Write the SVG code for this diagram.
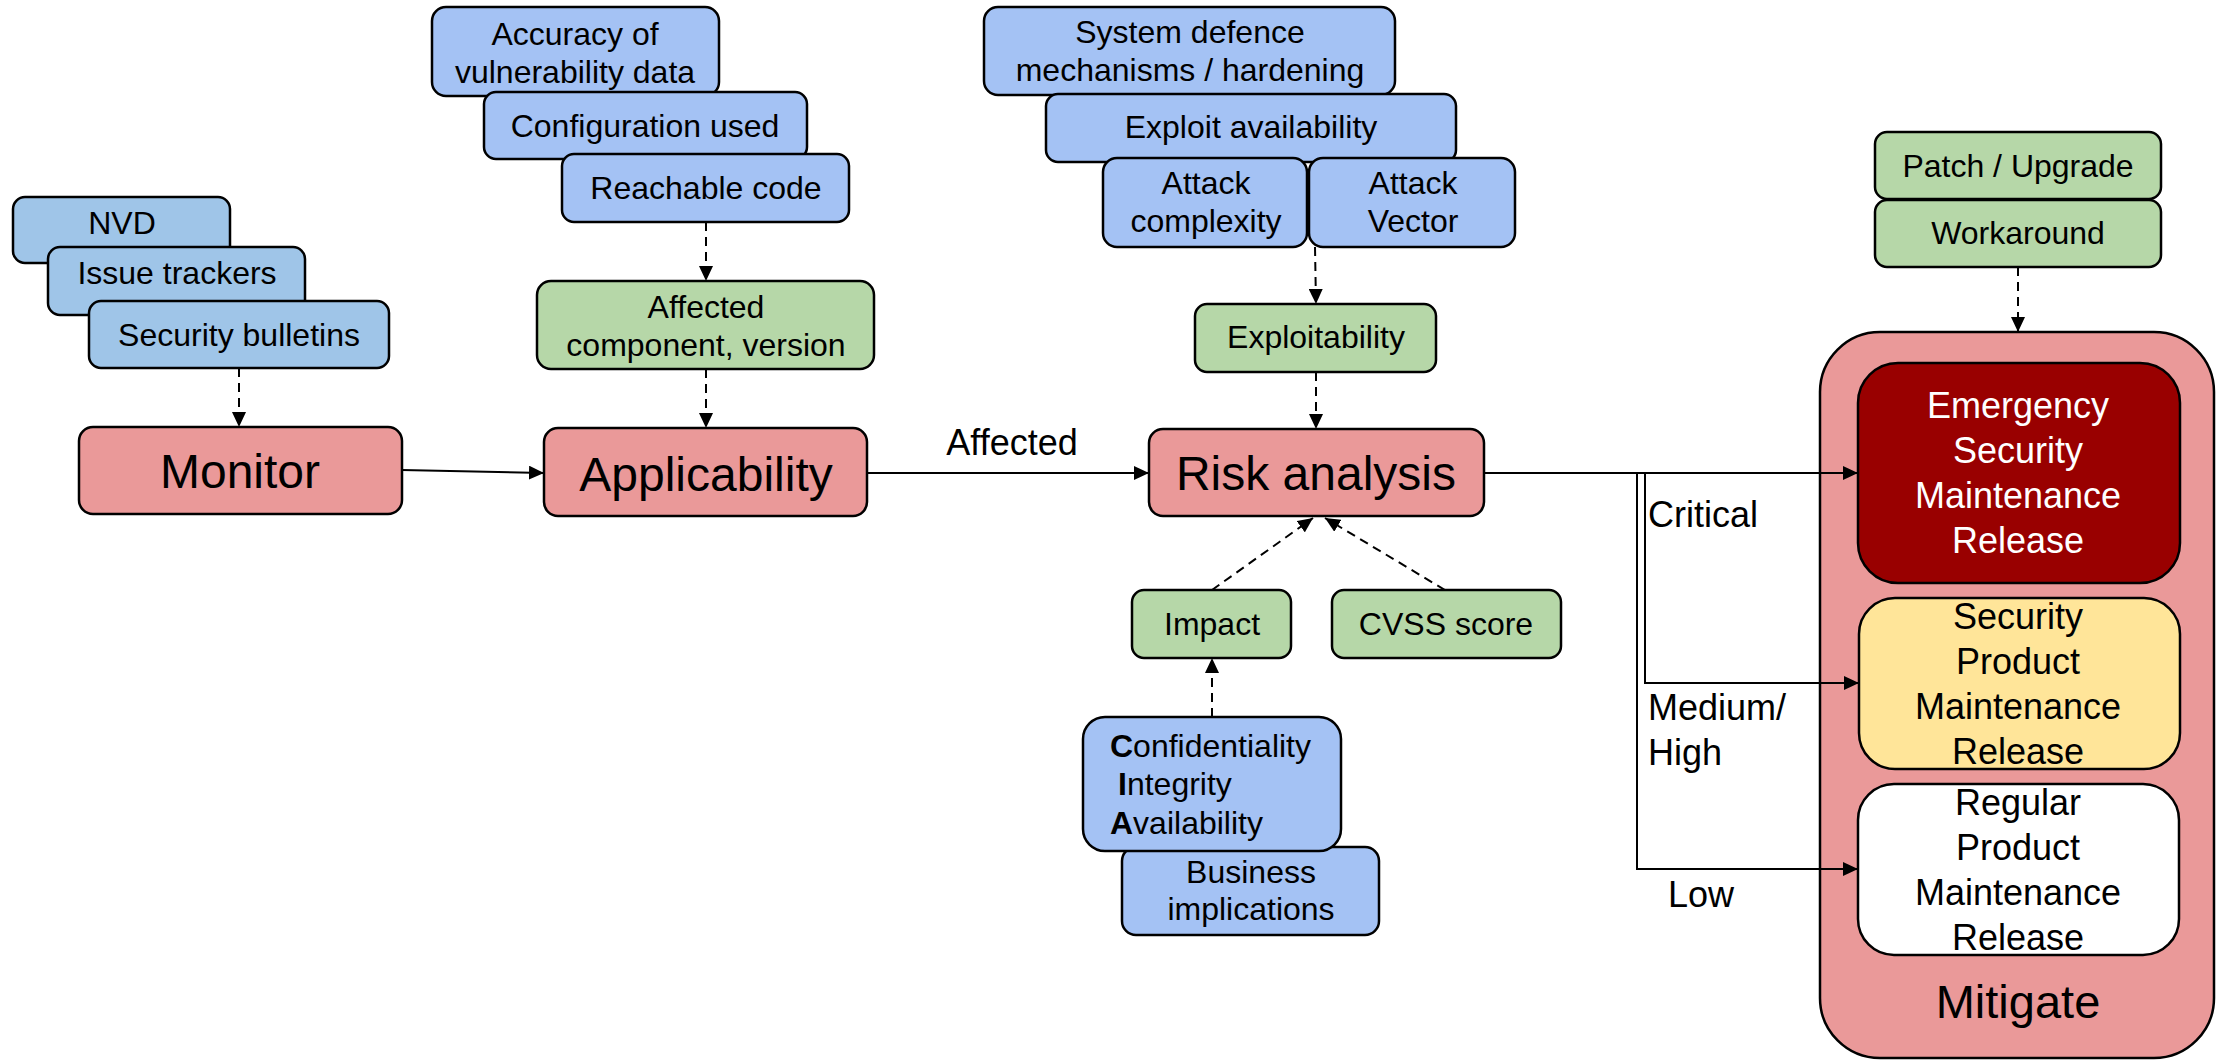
<svg xmlns="http://www.w3.org/2000/svg" width="2221" height="1061" viewBox="0 0 2221 1061">
<style>
text{font-family:"Liberation Sans",Arial,sans-serif;fill:#000}
.b{stroke:#000;stroke-width:2.5}
.src{fill:#9fc5e8}
.blue{fill:#a4c2f4}
.green{fill:#b6d7a8}
.red{fill:#ea9999}
.s{font-size:32px;text-anchor:middle}
.l{font-size:48px;text-anchor:middle}
.lab{font-size:36px}
.n{font-size:36px;text-anchor:middle}
.w{fill:#fff}
.c{fill:none;stroke:#000;stroke-width:2}
.d{stroke-dasharray:9 6}
</style>
<defs>
<marker id="ah" markerUnits="userSpaceOnUse" markerWidth="16" markerHeight="14" refX="15" refY="7" orient="auto">
<path d="M0,0 L15,7 L0,14 z" fill="#000"/>
</marker>
</defs>

<g id="nvd"><rect class="b src" x="13" y="197" width="217" height="66" rx="12"/><text class="s" x="122" y="234">NVD</text></g>
<g id="issue-trackers"><rect class="b src" x="48" y="247" width="257" height="68" rx="12"/><text class="s" x="177" y="284">Issue trackers</text></g>
<g id="security-bulletins"><rect class="b src" x="89" y="301" width="300" height="67" rx="12"/><text class="s" x="239" y="346">Security bulletins</text></g>
<g id="monitor"><rect class="b red" x="79" y="427" width="323" height="87" rx="14"/><text class="l" x="240" y="488">Monitor</text></g>

<g id="accuracy"><rect class="b blue" x="432" y="7" width="287" height="89" rx="14"/><text class="s" x="575" y="45">Accuracy of</text><text class="s" x="575" y="83">vulnerability data</text></g>
<g id="configuration"><rect class="b blue" x="484" y="92" width="323" height="67" rx="12"/><text class="s" x="645" y="137">Configuration used</text></g>
<g id="reachable"><rect class="b blue" x="562" y="154" width="287" height="68" rx="12"/><text class="s" x="706" y="199">Reachable code</text></g>
<g id="affected-component"><rect class="b green" x="537" y="281" width="337" height="88" rx="14"/><text class="s" x="706" y="318">Affected</text><text class="s" x="706" y="356">component, version</text></g>
<g id="applicability"><rect class="b red" x="544" y="428" width="323" height="88" rx="14"/><text class="l" x="706" y="491">Applicability</text></g>

<g id="system-defence"><rect class="b blue" x="984" y="7" width="411" height="88" rx="14"/><text class="s" x="1190" y="43">System defence</text><text class="s" x="1190" y="81">mechanisms / hardening</text></g>
<g id="exploit-availability"><rect class="b blue" x="1046" y="94" width="410" height="68" rx="12"/><text class="s" x="1251" y="138">Exploit availability</text></g>
<g id="attack-complexity"><rect class="b blue" x="1103" y="158" width="204" height="89" rx="14"/><text class="s" x="1206" y="194">Attack</text><text class="s" x="1206" y="232">complexity</text></g>
<g id="attack-vector"><rect class="b blue" x="1309" y="158" width="206" height="89" rx="14"/><text class="s" x="1413" y="194">Attack</text><text class="s" x="1413" y="232">Vector</text></g>
<g id="exploitability"><rect class="b green" x="1195" y="304" width="241" height="68" rx="12"/><text class="s" x="1316" y="348">Exploitability</text></g>
<g id="risk-analysis"><rect class="b red" x="1149" y="429" width="335" height="87" rx="14"/><text class="l" x="1316" y="490">Risk analysis</text></g>

<g id="impact"><rect class="b green" x="1132" y="590" width="159" height="68" rx="12"/><text class="s" x="1212" y="635">Impact</text></g>
<g id="cvss-score"><rect class="b green" x="1332" y="590" width="229" height="68" rx="12"/><text class="s" x="1446" y="635">CVSS score</text></g>
<g id="business-implications"><rect class="b blue" x="1122" y="847" width="257" height="88" rx="14"/><text class="s" x="1251" y="883">Business</text><text class="s" x="1251" y="920">implications</text></g>
<g id="cia"><rect class="b blue" x="1083" y="717" width="258" height="134" rx="22"/>
<text font-size="32" x="1110" y="757"><tspan font-weight="bold">C</tspan>onfidentiality</text>
<text font-size="32" x="1118" y="795"><tspan font-weight="bold">I</tspan>ntegrity</text>
<text font-size="32" x="1110" y="834"><tspan font-weight="bold">A</tspan>vailability</text></g>

<g id="patch-upgrade"><rect class="b green" x="1875" y="132" width="286" height="67" rx="12"/><text class="s" x="2018" y="177">Patch / Upgrade</text></g>
<g id="workaround"><rect class="b green" x="1875" y="200" width="286" height="67" rx="12"/><text class="s" x="2018" y="244">Workaround</text></g>

<g id="mitigate"><rect class="b red" x="1820" y="332" width="394" height="726" rx="60"/><text class="n" x="2018" y="1018" style="font-size:47px">Mitigate</text>
<g id="emergency-release"><rect class="b" fill="#990000" x="1858" y="363" width="322" height="220" rx="40"/>
<text class="n w" x="2018" y="418">Emergency</text>
<text class="n w" x="2018" y="463">Security</text>
<text class="n w" x="2018" y="508">Maintenance</text>
<text class="n w" x="2018" y="553">Release</text></g>
<g id="security-release"><rect class="b" fill="#ffe599" x="1859" y="598" width="321" height="171" rx="36"/>
<text class="n" x="2018" y="629">Security</text>
<text class="n" x="2018" y="674">Product</text>
<text class="n" x="2018" y="719">Maintenance</text>
<text class="n" x="2018" y="764">Release</text></g>
<g id="regular-release"><rect class="b" fill="#fff" x="1858" y="784" width="321" height="171" rx="36"/>
<text class="n" x="2018" y="815">Regular</text>
<text class="n" x="2018" y="860">Product</text>
<text class="n" x="2018" y="905">Maintenance</text>
<text class="n" x="2018" y="950">Release</text></g>
</g>

<g id="connectors">
<line class="c" x1="402" y1="470" x2="544" y2="473" marker-end="url(#ah)"/>
<line class="c" x1="867" y1="473" x2="1149" y2="473" marker-end="url(#ah)"/>
<line class="c" x1="1484" y1="473" x2="1858" y2="473" marker-end="url(#ah)"/>
<polyline class="c" points="1645,473 1645,683 1859,683" marker-end="url(#ah)"/>
<polyline class="c" points="1637,473 1637,869 1858,869" marker-end="url(#ah)"/>
<line class="c d" x1="239" y1="368" x2="239" y2="427" marker-end="url(#ah)"/>
<line class="c d" x1="706" y1="222" x2="706" y2="281" marker-end="url(#ah)"/>
<line class="c d" x1="706" y1="369" x2="706" y2="428" marker-end="url(#ah)"/>
<line class="c d" x1="1315" y1="247" x2="1316" y2="304" marker-end="url(#ah)"/>
<line class="c d" x1="1316" y1="372" x2="1316" y2="429" marker-end="url(#ah)"/>
<line class="c d" x1="1212" y1="590" x2="1313" y2="518" marker-end="url(#ah)"/>
<line class="c d" x1="1445" y1="590" x2="1325" y2="518" marker-end="url(#ah)"/>
<line class="c d" x1="1212" y1="717" x2="1212" y2="658" marker-end="url(#ah)"/>
<line class="c d" x1="2018" y1="267" x2="2018" y2="332" marker-end="url(#ah)"/>
<text x="1012" y="455" text-anchor="middle" style="font-size:36px">Affected</text>
<text class="lab" x="1648" y="527">Critical</text>
<text class="lab" x="1648" y="720">Medium/</text>
<text class="lab" x="1648" y="765">High</text>
<text class="lab" x="1668" y="907">Low</text>
</g>
</svg>
